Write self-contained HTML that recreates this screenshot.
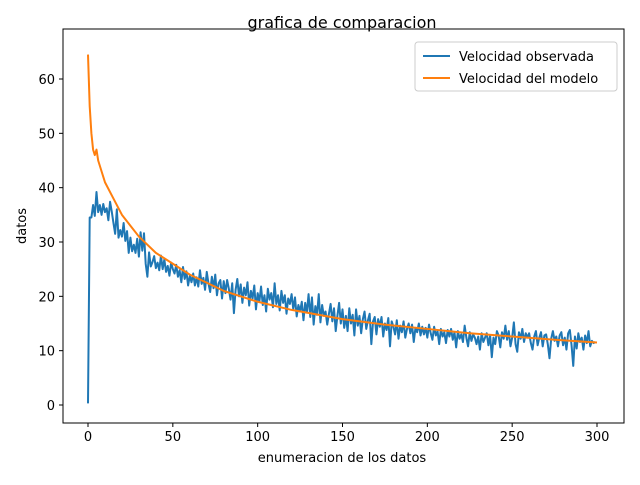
<!DOCTYPE html>
<html><head><meta charset="utf-8"><style>
body{margin:0;background:#fff;}
svg{font-family:"DejaVu Sans","Liberation Sans",sans-serif;}
</style></head><body>
<svg id="chart" width="640" height="480" xmlns="http://www.w3.org/2000/svg">
<rect width="640" height="480" fill="#fff"/>
<g id="plot"></g>
</svg>
<script>
const xTicks=[0,50,100,150,200,250,300];
const yTicks=[0,10,20,30,40,50,60];
const observed=[0.3,34.5,34.5,36.8,34.8,39.2,35.5,36.8,35,37,
35.5,36.2,34,37.4,35.6,33.5,31.5,36,30.8,32.2,
31,33.5,30.2,32,28,30.8,28.3,29.5,28,30.6,
27.3,31.8,28.4,31.6,26,23.6,28.1,25.5,26.3,27.4,
25.2,26.2,24.8,27.5,25,26.8,24.5,25.6,23.8,26.2,
25,24.2,25.8,23.6,24.8,22.6,25.4,23.2,24.6,22,
23.8,22.6,24.2,22,23.5,21.8,24.8,22.3,23.4,21.2,
24.5,22.4,20.8,23.6,21.5,24,20.2,22.4,23,19.6,
22.8,20.6,23,21.4,19.4,22.4,16.9,21.2,23.2,20,
22.2,18.8,21.6,20.2,22.6,18.3,21,19.6,22,17.6,
20.6,19,21.8,18.4,20.2,17.2,21.4,19.4,20.6,18,
22.4,18.6,20.2,17.4,21,18.8,20.2,16.8,19.6,18.6,
20.4,17.6,19.8,16.3,18.4,17.2,19,15.6,18.8,17,
20.4,16.2,19.8,14.8,18.2,16.6,20.4,15.2,18.4,16.4,
17.2,14.8,16.8,18.6,15.4,17.8,13.6,16.4,18.8,15,
17.6,14.2,16.4,13.6,17.8,15,16.6,12.8,17.6,14.6,
16.4,13.2,15.8,17.2,14,15.6,16.8,11.2,15.4,16.2,
13,15.8,14.4,16.2,12.6,15,13.8,16,10.8,15.4,
14.4,13,15.6,12.2,14.6,13.4,15.4,12.4,14,15,
13.2,14.8,11.6,14.2,13.4,15,12.8,14.4,13,14.2,
12.4,14.8,13.2,12,14.4,12.8,13.6,11.2,14,12.6,
13.4,11.4,13.8,12.6,14,12,13.4,10.6,13.6,12.2,
13,11.6,14.6,12.4,10.8,13.4,11.8,13,12.4,11.2,
12.6,10.2,13.2,11.6,12.4,13.2,11,12.8,8.8,12.4,
11.2,13.6,12.8,10.6,13.4,12.2,14.6,12,13.6,10.8,
12.4,15.2,11.2,9.8,13.4,12.2,14,11.6,13.2,12.4,
13.2,11.4,10.2,12.6,13.6,11,12.4,13.4,10.8,12.8,
13,11.2,8.6,12.2,13.6,11.8,12.6,10.8,12.8,13.4,
11,12.4,10.2,13.2,13.8,11,7.2,12.6,10.4,13.2,
11.6,12.4,10.2,12.8,11.4,13.6,10.8,11.8,11.4,11.6];
const modelX=[0,1,2,3,4,5,6,8,10,15,20,25,30,40,50,60,70,80,100,120,150,175,200,225,250,275,300];
const modelY=[64.5,55,50,47,46,47,45,43,41,38,35,33,31,28,26,24,22.5,21,19,17.5,15.8,14.8,14,13.2,12.6,12,11.5];

const NS="http://www.w3.org/2000/svg";
const R=624,T=29,B=423;
const xs=v=>88+v*(597-88)/300;
const ys=v=>405-v*(405-79)/60;
const g=document.getElementById('plot');
function mk(t,a,txt){const e=document.createElementNS(NS,t);for(const k in a)e.setAttribute(k,a[k]);if(txt!=null)e.textContent=txt;g.appendChild(e);return e;}

const frame=mk('rect',{x:63,y:T,width:R-63,height:B-T,fill:'none',stroke:'#000','stroke-width':1});



xTicks.forEach(v=>{
 const t=mk('line',{x1:xs(v),x2:xs(v),y1:B,y2:B+4,stroke:'#000'});
 
 
 const l=mk('text',{x:xs(v),y:B+18,'font-size':'13','text-anchor':'middle'},String(v));
 
 
});
yTicks.forEach(v=>{
 const t=mk('line',{x1:59,x2:63,y1:ys(v),y2:ys(v),stroke:'#000'});
 
 
 const l=mk('text',{x:55,y:ys(v)+5,'font-size':'13','text-anchor':'end'},String(v));
 
 
});

const p1=mk('polyline',{points:observed.map((v,i)=>xs(i)+','+ys(v)).join(' '),fill:'none',stroke:'#1f77b4','stroke-width':2,'stroke-linejoin':'round'});


const p2=mk('polyline',{points:modelX.map((x,i)=>xs(x)+','+ys(modelY[i])).join(' '),fill:'none',stroke:'#ff7f0e','stroke-width':2,'stroke-linejoin':'round'});



const tt=mk('text',{x:342,y:28,'font-size':'16','text-anchor':'middle'},'grafica de comparacion');


const xt=mk('text',{x:342,y:462,'font-size':'13','text-anchor':'middle'},'enumeracion de los datos');


const yt=mk('text',{x:0,y:0,'font-size':'13','text-anchor':'middle',transform:'translate(26,226) rotate(-90)'},'datos');



const lb=mk('rect',{x:415,y:42,width:202,height:49,rx:3,fill:'#fff',stroke:'#ccc'});


[['Velocidad observada','#1f77b4',56],['Velocidad del modelo','#ff7f0e',78]].forEach(([n,c,y])=>{
 const s=mk('line',{x1:423,x2:450,y1:y,y2:y,stroke:c,'stroke-width':2});
 
 
 const t=mk('text',{x:459,y:y+5,'font-size':'13'},n);
 
 
});
</script>
</body></html>
